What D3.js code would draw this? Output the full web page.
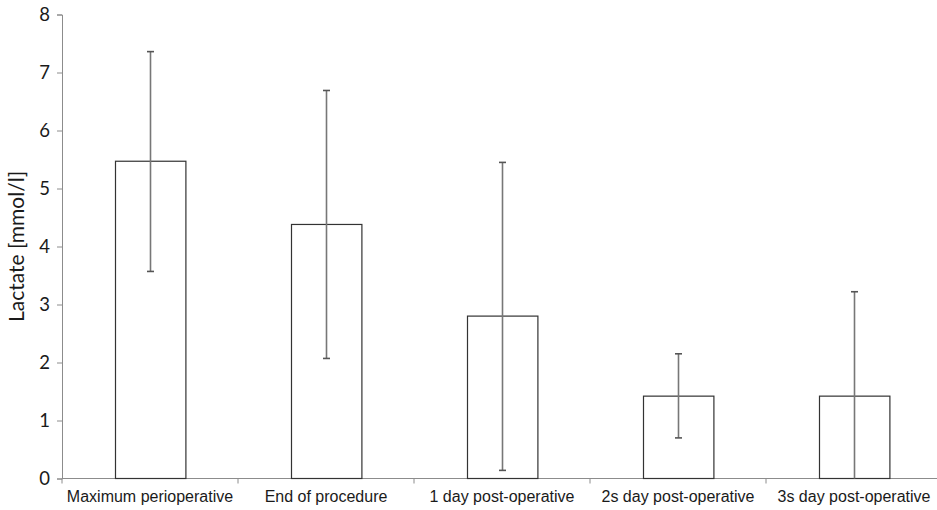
<!DOCTYPE html>
<html>
<head>
<meta charset="utf-8">
<script src="https://cdn.jsdelivr.net/npm/d3@7"></script>
<style>
  body { margin: 0; background: #fff; }
  .tick text { font-family: Lato, "Open Sans", sans-serif; }
</style>
</head>
<body>
<div id="chart"></div>
<script>
var categories = ["Maximum perioperative", "End of procedure", "1 day post-operative",
    "2s day post-operative", "3s day post-operative"];
var means = [5.47, 4.38, 2.80, 1.42, 1.42];
var lower = [3.57, 2.07, 0.14, 0.70, 0];
var upper = [7.36, 6.69, 5.45, 2.15, 3.22];
var yTicks = [0, 1, 2, 3, 4, 5, 6, 7, 8];

var width = 937;
var height = 510;
var margin = {top: 15, right: -5, bottom: 31, left: 62};

var svg = d3.select("#chart")
    .append("svg")
    .attr("width", width)
    .attr("height", height);

var x = d3.scaleBand()
    .domain(categories)
    .range([margin.left, width - margin.right])
    .paddingInner(0.6)
    .paddingOuter(0.3);

var y = d3.scaleLinear()
    .domain([0, 8])
    .range([height - margin.bottom - 0.5, margin.top - 0.5]);

// y axis
var yAxis = svg.append("g")
    .attr("transform", `translate(${margin.left},0)`)
    .call(d3.axisLeft(y).tickValues(yTicks).tickSize(5).tickPadding(7));
yAxis.selectAll("line, path").attr("stroke", "#8c8c8c");
yAxis.selectAll("text").attr("font-size", 18.5).attr("fill", "#1a1a1a");

// x axis: ticks sit between categories
var bandStep = x.step();
var xBase = height - margin.bottom - 0.5;
svg.append("line")
    .attr("x1", margin.left).attr("x2", width)
    .attr("y1", xBase).attr("y2", xBase)
    .attr("stroke", "#8c8c8c");
var bounds = d3.range(categories.length + 1).map(function(i) {
    return x(categories[0]) - x.step() * x.paddingOuter() + i * bandStep;
});
svg.selectAll(".xtick")
    .data(bounds)
    .enter().append("line")
    .attr("x1", d => d).attr("x2", d => d)
    .attr("y1", xBase).attr("y2", xBase + 5)
    .attr("stroke", "#8c8c8c");

svg.selectAll(".xlabel")
    .data(categories)
    .enter().append("text")
    .attr("x", d => x(d) + x.bandwidth() / 2)
    .attr("y", height - 8)
    .attr("text-anchor", "middle")
    .attr("font-family", "'Liberation Sans', Arial, sans-serif")
    .attr("font-size", 16)
    .attr("fill", "#1a1a1a")
    .text(d => d);

// bars
svg.selectAll(".bar")
    .data(categories)
    .enter().append("rect")
    .attr("x", d => Math.round(x(d)) + 0.5)
    .attr("y", (d, i) => y(means[i]))
    .attr("width", x.bandwidth())
    .attr("height", (d, i) => y(0) - y(means[i]))
    .attr("fill", "none")
    .attr("stroke", "#333")
    .attr("stroke-width", 1.2);

// error bars
var cx = d => Math.round(x(d) + x.bandwidth() / 2) + 0.5;
svg.selectAll(".err")
    .data(categories)
    .enter().append("line")
    .attr("x1", cx).attr("x2", cx)
    .attr("y1", (d, i) => y(lower[i]))
    .attr("y2", (d, i) => y(upper[i]))
    .attr("stroke", "#777")
    .attr("stroke-width", 1.6);

svg.selectAll(".capTop")
    .data(categories)
    .enter().append("line")
    .attr("x1", d => cx(d) - 3.5).attr("x2", d => cx(d) + 3.5)
    .attr("y1", (d, i) => y(upper[i])).attr("y2", (d, i) => y(upper[i]))
    .attr("stroke", "#555")
    .attr("stroke-width", 1.6);

svg.selectAll(".capBottom")
    .data(categories.filter((d, i) => lower[i] > 0))
    .enter().append("line")
    .attr("x1", d => cx(d) - 3.5).attr("x2", d => cx(d) + 3.5)
    .attr("y1", d => y(lower[categories.indexOf(d)]))
    .attr("y2", d => y(lower[categories.indexOf(d)]))
    .attr("stroke", "#555")
    .attr("stroke-width", 1.6);

// y label
svg.append("text")
    .attr("transform", `translate(24, ${(y(0) + y(8)) / 2})rotate(-90)`)
    .attr("text-anchor", "middle")
    .attr("font-family", "Lato, 'Open Sans', sans-serif")
    .attr("font-size", 21)
    .attr("fill", "#1a1a1a")
    .text("Lactate [mmol/l]");
</script>
</body>
</html>
